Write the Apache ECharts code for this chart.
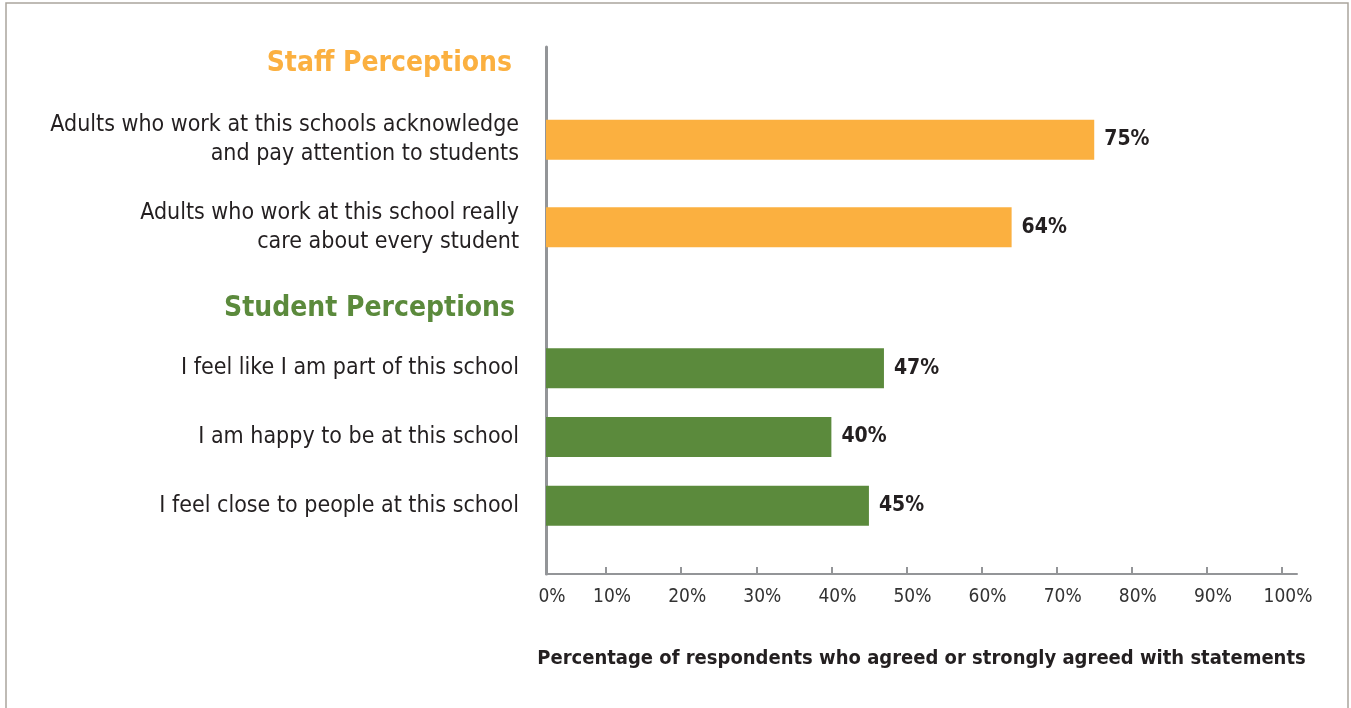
<!DOCTYPE html>
<html><head><meta charset="utf-8">
<script src="https://cdn.jsdelivr.net/npm/echarts@6/dist/echarts.min.js"></script>
<style>html,body{margin:0;padding:0;background:#fff}#c{width:1351px;height:708px}</style>
</head><body><div id="c"></div>
<script>
const staffCategories = ['Adults who work at this schools acknowledge\nand pay attention to students', 'Adults who work at this school really\ncare about every student'];
const staffValues = [75, 64];
const studentCategories = ['I feel like I am part of this school', 'I am happy to be at this school', 'I feel close to people at this school'];
const studentValues = [47, 40, 45];
const groupTitles = ['Staff Perceptions', 'Student Perceptions'];
const xTickValues = [0, 10, 20, 30, 40, 50, 60, 70, 80, 90, 100];
const xTickLabels = ['0%', '10%', '20%', '30%', '40%', '50%', '60%', '70%', '80%', '90%', '100%'];
const axisTitle = 'Percentage of respondents who agreed or strongly agreed with statements';

const X_MIN = 2, X_MAX = 102;
const FONT = '"Liberation Sans Narrow", "Arial Narrow", "DejaVu Sans Condensed", sans-serif';
const ORANGE = '#fbb040', GREEN = '#5b8a3c', TXT = '#231f20', AX = '#939598';
const GL = 546, GW = 751;

const chart = echarts.init(document.getElementById('c'), null, {renderer: 'canvas'});
const hiddenX = (i) => ({type: 'value', gridIndex: i, min: X_MIN, max: X_MAX, show: false});
const catY = (i, cats) => ({
  type: 'category', gridIndex: i, data: cats, inverse: true,
  axisLine: {show: false}, axisTick: {show: false}, splitLine: {show: false},
  axisLabel: {margin: 27, fontFamily: FONT, fontSize: 23, lineHeight: 29, color: TXT}
});
const barLabel = {
  show: true, position: 'right', distance: 10, formatter: '{c}%',
  fontFamily: FONT, fontSize: 21, fontWeight: 'bold', color: TXT
};
const labelPos = xTickValues.map(v => Math.max(v, X_MIN));

chart.setOption({
  animation: false,
  backgroundColor: '#fff',
  title: [
    {text: groupTitles[0], right: 834, top: 45, textStyle: {fontFamily: FONT, fontSize: 28, fontWeight: 'bold', color: ORANGE}},
    {text: groupTitles[1], right: 831, top: 290, textStyle: {fontFamily: FONT, fontSize: 28, fontWeight: 'bold', color: GREEN}}
  ],
  graphic: [{type: 'rect', shape: {x: 6, y: 3, width: 1342, height: 800}, style: {fill: 'none', stroke: '#aaa59d', lineWidth: 1.5}, silent: true}],
  grid: [
    {left: GL, width: GW, top: 96, height: 175, outerBoundsMode: 'none'},
    {left: GL, width: GW, top: 334, height: 206, outerBoundsMode: 'none'},
    {left: GL, width: GW, top: 47, height: 527, outerBoundsMode: 'none'}
  ],
  xAxis: [
    hiddenX(0), hiddenX(1),
    {
      type: 'value', gridIndex: 2, min: X_MIN, max: X_MAX,
      axisLine: {show: true, lineStyle: {color: AX, width: 2}},
      axisTick: {show: true, inside: true, length: 7, customValues: xTickValues.filter(v => v > X_MIN), lineStyle: {color: AX, width: 2}},
      splitLine: {show: false},
      axisLabel: {
        customValues: labelPos, margin: 14, padding: [0, 0, 0, 12], fontFamily: FONT, fontSize: 19, color: '#333',
        formatter: (v) => xTickLabels[labelPos.indexOf(v)]
      },
      name: axisTitle, nameLocation: 'middle', nameGap: 75,
      nameTextStyle: {fontFamily: FONT, fontSize: 20, fontWeight: 'bold', color: TXT}
    }
  ],
  yAxis: [
    catY(0, staffCategories), catY(1, studentCategories),
    {type: 'value', gridIndex: 2, axisLine: {show: true, lineStyle: {color: AX, width: 3}}, axisTick: {show: false}, axisLabel: {show: false}, splitLine: {show: false}}
  ],
  series: [
    {type: 'bar', xAxisIndex: 0, yAxisIndex: 0, data: staffValues, barWidth: 40, clip: true, itemStyle: {color: ORANGE}, label: barLabel},
    {type: 'bar', xAxisIndex: 1, yAxisIndex: 1, data: studentValues, barWidth: 40, clip: true, itemStyle: {color: GREEN}, label: barLabel}
  ]
});
</script>
</body></html>
